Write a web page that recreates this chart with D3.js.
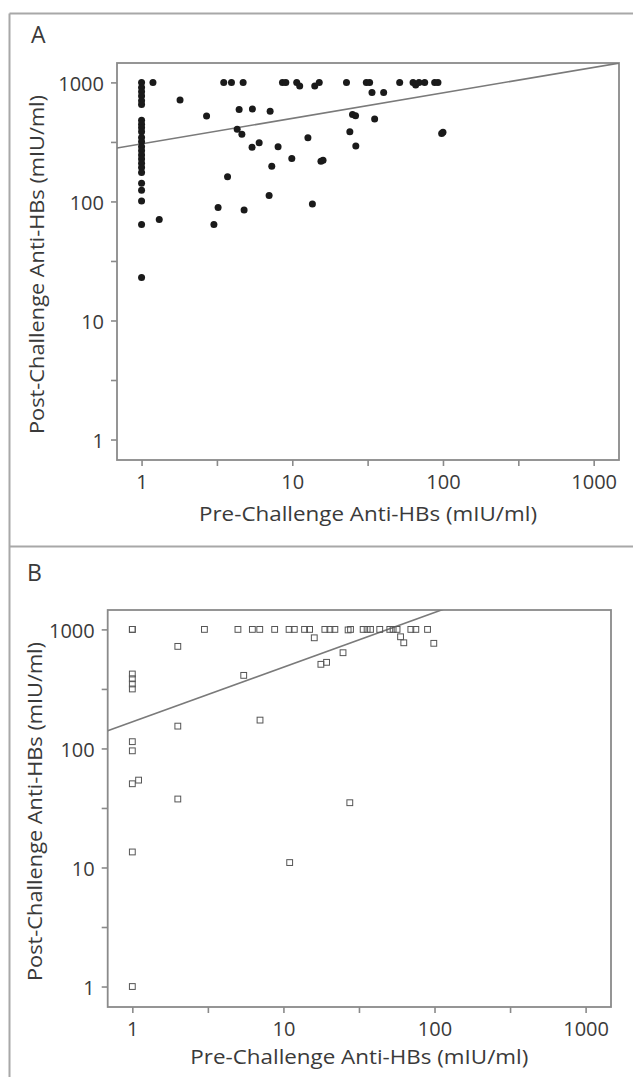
<!DOCTYPE html>
<html><head><meta charset="utf-8">
<script src="https://cdn.jsdelivr.net/npm/d3@7"></script>
<style>
html,body{margin:0;padding:0;background:#fff;}
svg{display:block;}
</style></head>
<body>
<svg id="chart" width="633" height="1077"></svg>
<script>
// ---------- data ----------
const panelLabels = ["A", "B"];
const xTitle = "Pre-Challenge Anti-HBs (mIU/ml)";
const yTitle = "Post-Challenge Anti-HBs (mIU/ml)";
const majorTicks = [1, 10, 100, 1000];
const minorTicks = [3.162, 31.62, 316.2];

// Panel A (filled circles)
const aPre = [
  1,1,1,1,1,1,1,1,1,1,1,1,1,1,1,1,1,1,1,1,1,1,1,1,
  1.19,1.80,2.70,1.31,3.02,3.22,3.72,3.51,3.95,4.72,4.44,5.44,7.13,4.31,4.63,5.41,6.03,8.05,7.31,9.93,7.02,4.79,
  12.7,13.6,15.5,16.0,8.61,9.06,10.7,11.2,14.1,15.1,22.9,
  31.0,32.6,33.8,40.4,51.6,63.3,65.9,69.3,75.6,88.1,92.6,25.1,26.3,35.2,24.1,26.4,100,98
];
const aPost = [
  1000,908,834,767,700,653,482,446,415,385,345,317,288,266,245,227,209,193,175,142,124,101,64,23,
  1000,710,521,70.6,64,89,161,1000,1000,1000,593,597,571,405,366,285,311,288,198,230,112,84.6,
  343,95,218,222,1000,1000,1000,931,931,1000,1000,
  1000,1000,824,824,1000,1000,949,1000,1000,1000,1000,538,524,492,385,292,382,372
];
const fitA = { intercept: 2.484, slope: 0.214 }; // log10(post) = intercept + slope*log10(pre)

// Panel B (open squares)
const bPre = [
  1,1,2,1,1,1,1,3,5,6.23,6.97,8.75,10.9,11.8,13.8,14.9,16.0,18.8,20.3,21.9,26.8,27.8,24.8,17.7,19.3,
  5.46,7,2,1,1,1,1.1,2,
  33.7,35.8,37.7,43.4,50.6,53.2,56.5,59.6,62.6,69.7,75.2,89.9,98.9,
  1,11.0,1,27.5
];
const bPost = [
  1000,1000,720,422,385,348,316,1000,1000,1000,1000,1000,1000,1000,1000,1000,850,1000,1000,1000,990,1000,637,509,529,
  411,173,154,114,95.5,50.5,54.2,37.6,
  1000,1000,1000,1000,1000,1000,1000,867,772,1000,1000,1000,764,
  13.5,11.0,1,35
];
const fitB = { intercept: 2.224, slope: 0.459 };

// ---------- layout ----------
const svg = d3.select("#chart");
const FONT = "'Open Sans', 'Noto Sans', sans-serif";
const frameColor = "#8a8a8a";
const textColor = "#3a3a3a";
const xDomain = [Math.pow(10, -0.163), Math.pow(10, 3.168)];
const yDomain = [Math.pow(10, -0.172), Math.pow(10, 3.163)];

// panel borders
const borderColor = "#a8a8a8";
svg.append("line").attr("x1", 9.5).attr("x2", 633).attr("y1", 13.5).attr("y2", 13.5)
  .attr("stroke", borderColor).attr("stroke-width", 2);
svg.append("line").attr("x1", 9.5).attr("x2", 9.5).attr("y1", 13.5).attr("y2", 1077)
  .attr("stroke", borderColor).attr("stroke-width", 2);
svg.append("line").attr("x1", 9.5).attr("x2", 633).attr("y1", 546.5).attr("y2", 546.5)
  .attr("stroke", borderColor).attr("stroke-width", 2);

const panels = [
  { label: panelLabels[0], labelX: 31, labelY: 43, frame: { l: 117, r: 619, t: 63, b: 460 },
    pre: aPre, post: aPost, fit: fitA, marker: "circle", yTitleX: 44, xTitleY: 521 },
  { label: panelLabels[1], labelX: 27, labelY: 581, frame: { l: 107.7, r: 611, t: 610, b: 1007 },
    pre: bPre, post: bPost, fit: fitB, marker: "square", yTitleX: 42, xTitleY: 1064 }
];

panels.forEach((p, i) => {
  const f = p.frame;
  const x = d3.scaleLog().domain(xDomain).range([f.l, f.r]);
  const y = d3.scaleLog().domain(yDomain).range([f.b, f.t]);
  const g = svg.append("g");

  // panel letter
  g.append("text").attr("x", p.labelX).attr("y", p.labelY)
    .attr("font-family", FONT).attr("font-size", 23).attr("fill", textColor).text(p.label);

  // clip
  const cid = "clip" + i;
  svg.append("clipPath").attr("id", cid).append("rect")
    .attr("x", f.l).attr("y", f.t).attr("width", f.r - f.l).attr("height", f.b - f.t);

  // axes
  const fmt = d => (majorTicks.includes(Math.round(d)) ? String(Math.round(d)) : "");
  const allTicks = majorTicks.concat(minorTicks).sort((a, b) => a - b);
  const xa = g.append("g").attr("transform", `translate(0,${f.b})`)
    .call(d3.axisBottom(x).tickValues(allTicks).tickFormat(fmt).tickSize(6).tickPadding(9));
  const ya = g.append("g").attr("transform", `translate(${f.l},0)`)
    .call(d3.axisLeft(y).tickValues(allTicks).tickFormat(fmt).tickSize(6).tickPadding(7));
  [xa, ya].forEach(a => {
    a.select(".domain").remove();
    a.selectAll(".tick line").attr("stroke", frameColor).attr("stroke-width", 1.6);
    a.selectAll(".tick text").attr("font-family", FONT).attr("font-size", 20).attr("fill", textColor);
  });
  ya.selectAll(".tick text").attr("dy", "0.38em");

  // frame
  g.append("rect").attr("x", f.l).attr("y", f.t).attr("width", f.r - f.l).attr("height", f.b - f.t)
    .attr("fill", "none").attr("stroke", frameColor).attr("stroke-width", 1.8);

  // regression line
  const lx = xDomain;
  const ly = lx.map(v => Math.pow(10, p.fit.intercept + p.fit.slope * Math.log10(v)));
  g.append("line").attr("clip-path", `url(#${cid})`)
    .attr("x1", x(lx[0])).attr("y1", y(ly[0])).attr("x2", x(lx[1])).attr("y2", y(ly[1]))
    .attr("stroke", "#7a7a7a").attr("stroke-width", 1.6);

  // points
  const pts = p.pre.map((v, k) => [v, p.post[k]]);
  if (p.marker === "circle") {
    g.selectAll("circle.pt").data(pts).join("circle").attr("class", "pt")
      .attr("cx", d => x(d[0])).attr("cy", d => y(d[1])).attr("r", 3.5).attr("fill", "#1a1a1a");
  } else {
    const s = 5.8;
    g.selectAll("rect.pt").data(pts).join("rect").attr("class", "pt")
      .attr("x", d => x(d[0]) - s / 2).attr("y", d => y(d[1]) - s / 2)
      .attr("width", s).attr("height", s)
      .attr("fill", "none").attr("stroke", "#555").attr("stroke-width", 1);
  }

  // titles (squeezed to the reference width, keeping the glyph height)
  g.append("text").attr("x", (f.l + f.r) / 2).attr("y", p.xTitleY)
    .attr("text-anchor", "middle").attr("font-family", FONT).attr("font-size", 20.5)
    .attr("textLength", 338).attr("lengthAdjust", "spacingAndGlyphs")
    .attr("fill", textColor).text(xTitle);
  const cy = (f.t + f.b) / 2 + 3;
  g.append("text").attr("transform", `translate(${p.yTitleX},${cy}) rotate(-90)`)
    .attr("text-anchor", "middle").attr("font-family", FONT).attr("font-size", 20.5)
    .attr("textLength", 339).attr("lengthAdjust", "spacingAndGlyphs")
    .attr("fill", textColor).text(yTitle);
});
</script>
</body></html>
